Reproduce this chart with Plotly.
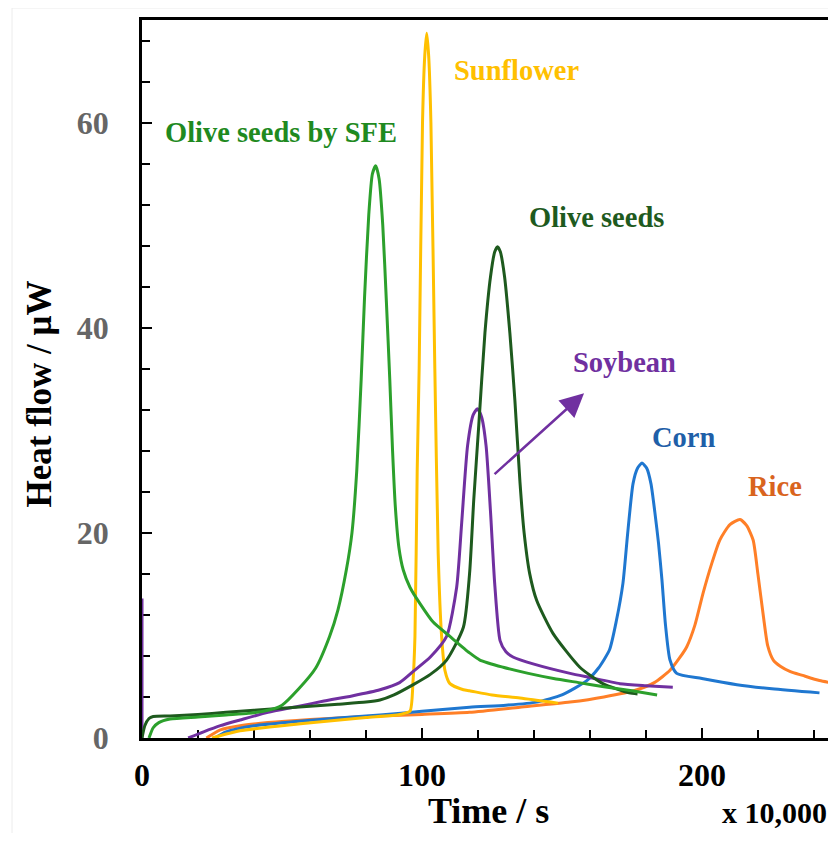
import plotly.graph_objects as go

# ---- data (time in units of 10,000 s, heat flow in µW) ----
sfe_x = [2.5, 4, 6, 10, 20, 30, 38, 45, 50, 56, 62, 67, 70, 73, 75, 76.7, 78.3, 79.5, 81, 82.3, 83.5, 84.7, 86, 87.3, 88.5, 89.5, 90.5, 91.8, 93.3, 95.7, 99.3, 104, 110, 117, 120.7, 129, 138, 147, 156, 165, 175, 184]
sfe_y = [0, 1.0, 1.5, 1.85, 2.05, 2.25, 2.4, 2.7, 3.2, 4.8, 6.8, 9.9, 12.5, 16.4, 20, 26, 35, 43, 51, 55, 55.8, 54.5, 50, 42.5, 35, 28, 22.5, 18.5, 16.4, 14.7, 13.1, 11.3, 9.9, 8.3, 7.6, 6.9, 6.3, 5.8, 5.4, 5.0, 4.6, 4.2]

sun_x = [25, 35, 50, 65, 80, 92, 95.7, 96.8, 97.5, 98.3, 99.0, 100.2, 101.0, 101.7, 102.4, 103.2, 104.6, 105.8, 107, 108.2, 110, 114.8, 117, 125, 135, 148.6]
sun_y = [0, 0.7, 1.2, 1.6, 2.0, 2.3, 2.6, 5.5, 9.9, 26, 36, 60, 66.5, 68.7, 66.5, 60, 36, 18, 10, 6.6, 5.3, 4.7, 4.6, 4.2, 3.9, 3.4]

olive_x = [0, 1, 2.5, 4, 10, 20, 30, 40, 50, 60, 70, 80, 85, 90, 96.9, 103, 108.8, 114.8, 117, 118.5, 120.3, 122.5, 124.5, 126, 127, 128, 129.5, 131.4, 133.2, 135, 136.5, 138.5, 141, 146.8, 156.4, 164.6, 174, 177]
olive_y = [0, 1.2, 1.9, 2.1, 2.15, 2.3, 2.5, 2.7, 2.9, 3.1, 3.3, 3.5, 3.7, 4.2, 5.2, 6.2, 7.6, 10.8, 16, 23.2, 30.5, 39.5, 45, 47.4, 47.9, 47.4, 45, 39.5, 32.9, 25, 20, 16, 13.4, 10.2, 6.9, 5.3, 4.4, 4.3]

soy_x = [0, 0, None, 16.5, 22, 28, 35, 45, 55.2, 65, 75, 85, 92, 96.9, 103, 108.8, 112.4, 114.2, 116.3, 118.3, 119.8, 121.3, 122.9, 124.5, 126, 127.9, 130, 132.5, 140, 152.9, 160, 170.7, 180, 189.6]
soy_y = [13.6, 0, None, 0, 0.6, 1.2, 1.75, 2.5, 3.05, 3.6, 4.1, 4.7, 5.4, 6.5, 7.9, 9.9, 14.7, 21, 28.5, 31.5, 32.1, 31.3, 28.5, 22, 15, 9.5, 8.4, 7.9, 7.2, 6.3, 5.9, 5.3, 5.1, 4.95]

corn_x = [26, 30, 40, 55, 70, 85, 100, 117, 130, 141, 150, 158.9, 163, 167, 169.5, 171.8, 173.5, 175.4, 177, 178.6, 180.3, 181.8, 183.2, 184.5, 185.7, 187, 188.6, 191, 200, 212.5, 225, 242]
corn_y = [0, 0.6, 1.2, 1.6, 1.95, 2.25, 2.6, 3.0, 3.2, 3.5, 4.2, 5.6, 6.8, 8.6, 11.5, 15.1, 20, 24.8, 26.3, 26.8, 26.3, 24.8, 22, 19, 15.5, 11, 7.6, 6.3, 5.8, 5.2, 4.8, 4.4]

rice_x = [23, 28, 35, 45, 60, 80, 100, 117, 135, 152.9, 165, 176.8, 183, 188.6, 192, 194.6, 197.5, 200.4, 203.5, 206.4, 210, 213.6, 216, 218.3, 220, 222, 223.5, 225.5, 228, 231.4, 236, 242, 248]
rice_y = [0, 0.8, 1.2, 1.5, 1.8, 2.1, 2.3, 2.5, 3.0, 3.5, 4.0, 4.7, 5.4, 6.6, 7.8, 8.9, 11, 14.1, 17, 19.3, 20.8, 21.3, 20.7, 19.3, 16, 11.8, 9, 7.6, 7.0, 6.5, 6.1, 5.6, 5.3]

label_names = ["Olive seeds by SFE", "Sunflower", "Olive seeds", "Soybean", "Corn", "Rice"]
label_x = [49.6, 133.9, 162.5, 172.5, 193.6, 226.1]
label_y = [59.0, 65.1, 50.7, 36.6, 29.3, 24.5]

arrow_tail = (125.4, 25.6)
arrow_head = (157.9, 33.6)

x_ticks = [0, 100, 200]
y_ticks = [0, 20, 40, 60]

# ---- styles ----
FONT = "Liberation Serif"
line_cols = ["#2CA02C", "#FFC000", "#1E5A1E", "#7030A0", "#1F77D0", "#FF7F27"]
text_cols = ["#1F8A1F", "#FFC000", "#1E5A1E", "#7030A0", "#1F5FA8", "#D9641E"]

fig = go.Figure()
series = [
    (sfe_x, sfe_y), (sun_x, sun_y), (olive_x, olive_y),
    (soy_x, soy_y), (corn_x, corn_y), (rice_x, rice_y),
]
order = [5, 4, 1, 3, 2, 0]
for i in order:
    xs, ys = series[i]
    fig.add_trace(go.Scatter(
        x=xs, y=ys, mode="lines", name=label_names[i],
        line=dict(color=line_cols[i], width=3, shape="spline", smoothing=0.6),
        hoverinfo="skip", showlegend=False,
    ))

# page has an 8px body margin; positions below are page pixels
OFF = 8
W, H = 836 - OFF, 841 - 2 * OFF
L, R, T = 142 - OFF, 0, 20 - OFF
B = H - (738 - OFF)
pw, ph = W - L - R, H - T - B

def px2paper(px, py):
    return (px - OFF - L) / pw, (H - B - (py - OFF)) / ph

annotations = []
for name, lx, ly, col in zip(label_names, label_x, label_y, text_cols):
    annotations.append(dict(
        x=lx, y=ly, xref="x", yref="y", text=f"<b>{name}</b>", showarrow=False,
        font=dict(family=FONT, size=28.5, color=col), xanchor="center", yanchor="middle",
    ))

annotations.append(dict(
    x=arrow_head[0], y=arrow_head[1], ax=arrow_tail[0], ay=arrow_tail[1],
    xref="x", yref="y", axref="x", ayref="y", text="", showarrow=True,
    arrowhead=2, arrowsize=1.9, arrowwidth=2.5, arrowcolor="#7030A0",
))

tx, ty = px2paper(39, 394.5)
annotations.append(dict(
    x=tx, y=ty, xref="paper", yref="paper", text="<b>Heat flow / μW</b>", showarrow=False,
    textangle=-90, font=dict(family=FONT, size=35, color="black"), xanchor="center", yanchor="middle",
))
tx, ty = px2paper(488, 811)
annotations.append(dict(
    x=tx, y=ty, xref="paper", yref="paper", text="<b>Time / s</b>", showarrow=False,
    font=dict(family=FONT, size=36, color="black"), xanchor="center", yanchor="middle",
))
tx, ty = px2paper(774, 812)
annotations.append(dict(
    x=tx, y=ty, xref="paper", yref="paper", text="<b>x 10,000</b>", showarrow=False,
    font=dict(family=FONT, size=30, color="black"), xanchor="center", yanchor="middle",
))

fx, fy = px2paper(12, 8)
fig.update_layout(
    width=W, height=H,
    margin=dict(l=L, r=R, t=T, b=B),
    paper_bgcolor="white", plot_bgcolor="white",
    annotations=annotations,
    shapes=[
        dict(type="line", xref="paper", yref="paper", x0=fx, x1=fx,
             y0=fy, y1=px2paper(0, 833)[1], line=dict(color="#ececec", width=1)),
        dict(type="line", xref="paper", yref="paper", x0=fx, x1=1.0,
             y0=fy, y1=fy, line=dict(color="#ececec", width=1)),
    ],
)
fig.update_xaxes(
    range=[0, 247.9], tickvals=x_ticks, ticktext=[f"<b>{v}</b>" for v in x_ticks],
    ticks="inside", ticklen=10, tickwidth=2, tickcolor="black",
    minor=dict(dtick=20, ticks="inside", ticklen=8, tickwidth=2, tickcolor="black"),
    showline=True, linecolor="black", linewidth=3, mirror=True,
    showgrid=False, zeroline=False, layer="below traces",
    tickfont=dict(family=FONT, size=32, color="black"), ticklabelstandoff=7,
)
fig.update_yaxes(
    range=[0, 70], tickvals=y_ticks, ticktext=[f"<b>{v}</b>" for v in y_ticks],
    ticks="inside", ticklen=10, tickwidth=2, tickcolor="black",
    minor=dict(dtick=4, ticks="inside", ticklen=8, tickwidth=2, tickcolor="black"),
    showline=True, linecolor="black", linewidth=2.5,
    showgrid=False, zeroline=False, layer="below traces",
    tickfont=dict(family=FONT, size=32, color="#666666"), ticklabelstandoff=24,
)

fig.write_html("out.html")
